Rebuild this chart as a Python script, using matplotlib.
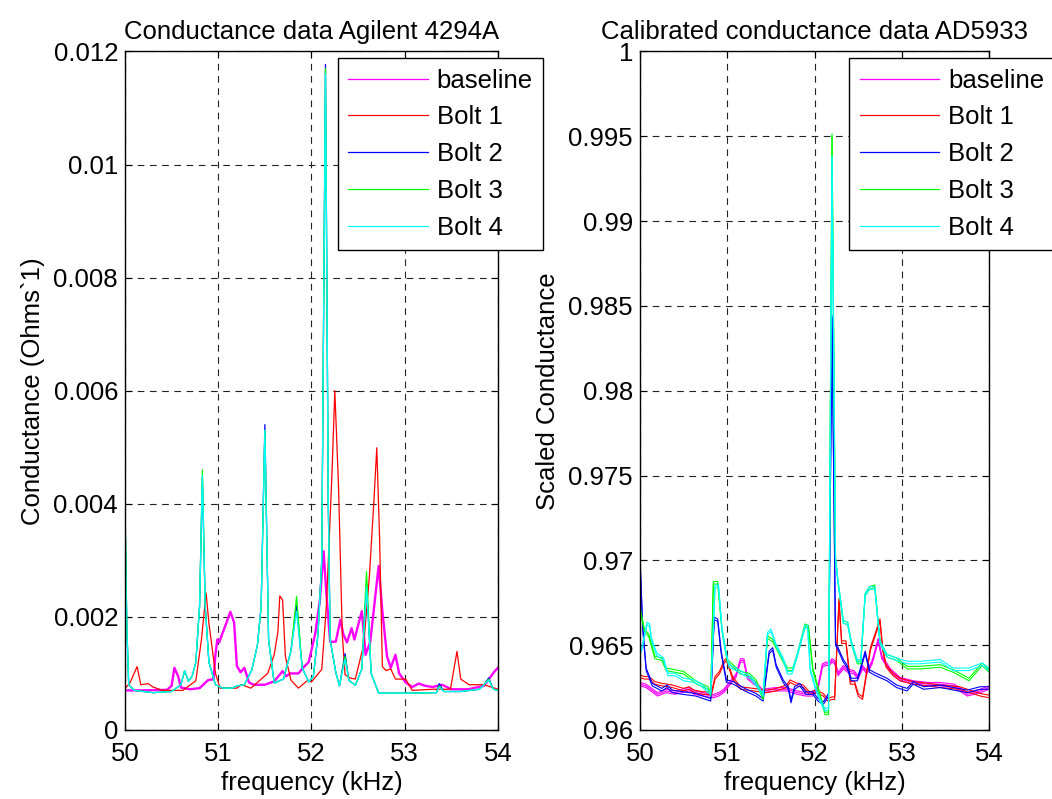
import numpy as np
import matplotlib
matplotlib.use("Agg")
import matplotlib.pyplot as plt
from matplotlib.lines import Line2D

plt.rcParams['font.family'] = ['Liberation Sans', 'DejaVu Sans']

names = ["baseline", "Bolt 1", "Bolt 2", "Bolt 3", "Bolt 4"]
colors = ["#ff00ff", "#ff0000", "#0000ff", "#00ff00", "#00ffff"]

# ---- Agilent 4294A conductance (values in mS -> scaled below) ----
agi_f_base = [50.0, 50.2, 50.45, 50.5, 50.53, 50.57, 50.6, 50.7, 50.8, 50.89, 50.95, 50.97, 50.99,
              51.01, 51.08, 51.13, 51.17, 51.2, 51.24, 51.28, 51.33, 51.38, 51.5, 51.6, 51.69, 51.73,
              51.77, 51.86, 51.91, 51.97, 52.04, 52.09, 52.13, 52.16, 52.2, 52.26, 52.31, 52.34, 52.38,
              52.43, 52.46, 52.5, 52.54, 52.58, 52.63, 52.69, 52.72, 52.76, 52.81, 52.85, 52.9, 52.94,
              53.01, 53.08, 53.15, 53.22, 53.3, 53.4, 53.5, 53.68, 53.85, 53.96, 54.0]
agi_base = [0.70, 0.70, 0.71, 0.78, 1.10, 0.95, 0.75, 0.72, 0.74, 0.88, 0.90, 1.33, 1.60,
            1.55, 1.86, 2.09, 1.90, 1.13, 1.02, 1.10, 0.84, 0.80, 0.80, 0.86, 1.04, 0.95,
            1.00, 1.00, 1.10, 1.20, 1.70, 2.30, 3.16, 2.40, 1.56, 1.56, 1.95, 1.70, 1.55,
            1.80, 1.60, 1.85, 2.10, 1.33, 1.56, 2.45, 2.90, 2.10, 1.30, 1.10, 1.33, 1.00,
            0.84, 0.76, 0.82, 0.78, 0.76, 0.80, 0.72, 0.72, 0.78, 1.03, 1.10]

agi_f_b1 = [50.0, 50.05, 50.13, 50.17, 50.25, 50.3, 50.4, 50.62, 50.76, 50.82, 50.87, 50.9, 50.97,
            51.02, 51.2, 51.25, 51.35, 51.53, 51.6, 51.64, 51.66, 51.69, 51.72, 51.78, 51.86, 51.96,
            52.0, 52.11, 52.16, 52.22, 52.25, 52.29, 52.33, 52.36, 52.41, 52.47, 52.56, 52.62, 52.67,
            52.70, 52.73, 52.76, 52.8, 52.85, 52.9, 53.01, 53.08, 53.3, 53.49, 53.56, 53.6, 53.69,
            53.85, 54.0]
agi_b1 = [0.74, 0.82, 1.12, 0.80, 0.82, 0.76, 0.70, 0.70, 0.87, 1.60, 2.42, 1.89, 1.00,
          0.74, 0.74, 0.80, 0.74, 1.00, 1.33, 1.74, 2.37, 2.30, 1.30, 0.88, 0.74, 0.88,
          0.85, 1.07, 2.20, 4.55, 6.00, 4.30, 1.70, 0.98, 0.92, 0.90, 1.51, 2.70, 4.07,
          4.99, 3.40, 1.12, 1.05, 1.08, 0.90, 0.90, 0.70, 0.72, 0.72, 1.39, 0.90, 0.80,
          0.80, 0.72]

agi_f_bolts = [50.0, 50.02, 50.04, 50.1, 50.3, 50.5, 50.6, 50.64, 50.68, 50.72, 50.76, 50.80, 50.83,
               50.86, 50.9, 50.97, 51.05, 51.15, 51.2, 51.28, 51.36, 51.42, 51.46, 51.50, 51.54, 51.6,
               51.7, 51.78, 51.84, 51.9, 51.97, 52.02, 52.07, 52.11, 52.15, 52.18, 52.2, 52.26, 52.3,
               52.36, 52.4, 52.47, 52.54, 52.59, 52.64, 52.72, 53.0, 53.34, 53.37, 53.42, 53.6, 53.8,
               53.85, 53.9, 53.95, 54.0]
agi_b2 = [3.95, 1.80, 0.80, 0.70, 0.66, 0.68, 0.80, 1.05, 0.86, 0.95, 1.20, 2.20, 4.45,
          2.20, 1.20, 0.80, 0.74, 0.74, 0.78, 0.80, 1.06, 1.50, 2.19, 5.40, 1.59, 0.83,
          0.90, 1.40, 2.20, 1.10, 0.85, 0.95, 1.70, 3.00, 11.77, 4.00, 1.60, 1.02, 0.78,
          1.35, 0.88, 0.79, 1.08, 2.60, 1.00, 0.65, 0.65, 0.66, 0.82, 0.68, 0.68, 0.72,
          0.80, 0.92, 0.72, 0.70]
agi_b3 = [4.00, 1.85, 0.80, 0.70, 0.66, 0.68, 0.80, 1.05, 0.86, 0.95, 1.20, 2.20, 4.60,
          2.20, 1.20, 0.80, 0.74, 0.74, 0.78, 0.80, 1.06, 1.50, 2.15, 5.30, 1.59, 0.83,
          0.90, 1.40, 2.36, 1.10, 0.85, 0.95, 1.70, 3.00, 11.70, 4.00, 1.60, 1.02, 0.78,
          1.30, 0.88, 0.79, 1.08, 2.80, 1.00, 0.65, 0.65, 0.66, 0.78, 0.68, 0.68, 0.72,
          0.80, 0.90, 0.72, 0.70]
agi_b4 = [3.90, 1.80, 0.80, 0.70, 0.66, 0.68, 0.80, 1.05, 0.86, 0.95, 1.20, 2.20, 4.50,
          2.20, 1.20, 0.80, 0.74, 0.74, 0.78, 0.80, 1.06, 1.50, 2.19, 5.30, 1.59, 0.83,
          0.90, 1.40, 2.10, 1.10, 0.85, 0.95, 1.70, 3.00, 11.60, 4.00, 1.60, 1.02, 0.78,
          1.25, 0.88, 0.79, 1.08, 2.53, 1.00, 0.65, 0.65, 0.66, 0.76, 0.68, 0.68, 0.72,
          0.80, 0.88, 0.72, 0.70]

# ---- AD5933 calibrated conductance ----
ad_f_base = [50.0, 50.07, 50.2, 50.3, 50.4, 50.56, 50.62, 50.72, 50.84, 50.9, 50.96, 51.02, 51.1,
             51.15, 51.19, 51.23, 51.33, 51.4, 51.55, 51.68, 51.8, 51.9, 51.98, 52.04, 52.09, 52.13,
             52.17, 52.2, 52.23, 52.27, 52.33, 52.38, 52.45, 52.5, 52.55, 52.6, 52.66, 52.73, 52.77,
             52.87, 52.98, 53.13, 53.3, 53.44, 53.6, 53.75, 53.9, 54.0]
ad_base = [0.9627, 0.9626, 0.9621, 0.9623, 0.9622, 0.9624, 0.9622, 0.9621, 0.9620, 0.9621, 0.9623,
           0.9627, 0.9632, 0.9641, 0.9641, 0.9631, 0.9627, 0.9623, 0.9624, 0.9624, 0.9622, 0.9621,
           0.9621, 0.9625, 0.9638, 0.9639, 0.9639, 0.9641, 0.9640, 0.9633, 0.9637, 0.9635, 0.9634,
           0.9631, 0.9637, 0.9634, 0.9640, 0.9653, 0.9643, 0.9635, 0.9630, 0.9628, 0.9627, 0.9627,
           0.9626, 0.9621, 0.9623, 0.9625]

ad_f_b1 = [50.0, 50.05, 50.1, 50.17, 50.25, 50.37, 50.5, 50.56, 50.62, 50.72, 50.82, 50.86, 50.91,
           50.96, 50.99, 51.06, 51.15, 51.3, 51.45, 51.56, 51.68, 51.72, 51.8, 51.87, 51.94, 52.02,
           52.1, 52.15, 52.2, 52.23, 52.28, 52.31, 52.36, 52.41, 52.46, 52.5, 52.55, 52.64, 52.75,
           52.78, 52.82, 52.9, 52.98, 53.13, 53.3, 53.44, 53.66, 53.9, 54.0]
ad_b1 = [0.9631, 0.9630, 0.9630, 0.9627, 0.9626, 0.9625, 0.9623, 0.9624, 0.9622, 0.9621, 0.9621,
         0.9630, 0.9633, 0.9639, 0.9641, 0.9630, 0.9624, 0.9623, 0.9622, 0.9623, 0.9625, 0.9628,
         0.9626, 0.9625, 0.9621, 0.9622, 0.9620, 0.9617, 0.9618, 0.9618, 0.9676, 0.9651, 0.9651,
         0.9627, 0.9627, 0.9620, 0.9618, 0.9647, 0.9664, 0.9647, 0.9637, 0.9632, 0.9629, 0.9627,
         0.9626, 0.9625, 0.9624, 0.9620, 0.9619]

ad_f_b2 = [50.0, 50.03, 50.07, 50.14, 50.25, 50.31, 50.37, 50.49, 50.64, 50.81, 50.85, 50.89, 50.93,
           50.99, 51.07, 51.2, 51.33, 51.41, 51.48, 51.52, 51.56, 51.64, 51.7, 51.73, 51.77, 51.83,
           51.9, 51.98, 52.04, 52.1, 52.16, 52.2, 52.24, 52.27, 52.33, 52.37, 52.42, 52.49, 52.52,
           52.58, 52.63, 52.7, 52.83, 52.94, 53.06, 53.13, 53.25, 53.44, 53.75, 53.9, 54.0]
ad_b2 = [0.9700, 0.9660, 0.9635, 0.9626, 0.9623, 0.9625, 0.9622, 0.9621, 0.9620, 0.9617, 0.9665,
         0.9664, 0.9645, 0.9628, 0.9627, 0.9623, 0.9620, 0.9617, 0.9645, 0.9647, 0.9637, 0.9628,
         0.9624, 0.9616, 0.9624, 0.9626, 0.9621, 0.9621, 0.9617, 0.9615, 0.9620, 0.9843, 0.9650,
         0.9647, 0.9640, 0.9637, 0.9629, 0.9629, 0.9634, 0.9645, 0.9634, 0.9632, 0.9629, 0.9625,
         0.9623, 0.9627, 0.9624, 0.9625, 0.9622, 0.9624, 0.9624]

ad_f_b3 = [50.0, 50.05, 50.1, 50.17, 50.25, 50.3, 50.4, 50.5, 50.65, 50.78, 50.81, 50.84, 50.89,
           50.94, 51.0, 51.15, 51.25, 51.33, 51.41, 51.46, 51.52, 51.6, 51.69, 51.75, 51.8, 51.89,
           51.93, 51.98, 52.05, 52.12, 52.16, 52.2, 52.24, 52.27, 52.33, 52.38, 52.42, 52.49, 52.53,
           52.58, 52.63, 52.69, 52.75, 52.83, 52.94, 53.06, 53.21, 53.44, 53.59, 53.77, 53.92, 54.0]
ad_b3 = [0.9671, 0.9658, 0.9655, 0.9642, 0.9641, 0.9635, 0.9634, 0.9633, 0.9627, 0.9624, 0.9620,
         0.9686, 0.9686, 0.9658, 0.9640, 0.9633, 0.9632, 0.9628, 0.9618, 0.9654, 0.9652, 0.9644,
         0.9635, 0.9635, 0.9643, 0.9661, 0.9660, 0.9635, 0.9622, 0.9609, 0.9609, 0.9950, 0.9700,
         0.9686, 0.9663, 0.9662, 0.9651, 0.9639, 0.9639, 0.9679, 0.9683, 0.9684, 0.9651, 0.9643,
         0.9641, 0.9636, 0.9636, 0.9637, 0.9634, 0.9629, 0.9638, 0.9634]

ad_f_b4 = [50.0, 50.02, 50.08, 50.11, 50.13, 50.19, 50.27, 50.32, 50.4, 50.5, 50.62, 50.7, 50.78,
           50.81, 50.86, 50.9, 50.94, 50.98, 51.02, 51.1, 51.2, 51.27, 51.33, 51.41, 51.46, 51.5,
           51.56, 51.64, 51.69, 51.74, 51.8, 51.89, 51.92, 51.95, 52.01, 52.07, 52.12, 52.16, 52.2,
           52.24, 52.27, 52.33, 52.38, 52.42, 52.49, 52.53, 52.58, 52.63, 52.69, 52.75, 52.83, 52.94,
           53.06, 53.21, 53.44, 53.59, 53.77, 53.92, 54.0]
ad_b4 = [0.9645, 0.9647, 0.9662, 0.9661, 0.9653, 0.9644, 0.9641, 0.9632, 0.9632, 0.9629, 0.9628,
         0.9626, 0.9622, 0.9621, 0.9684, 0.9684, 0.9658, 0.9646, 0.9637, 0.9635, 0.9632, 0.9630,
         0.9626, 0.9620, 0.9656, 0.9658, 0.9649, 0.9641, 0.9633, 0.9633, 0.9643, 0.9660, 0.9660,
         0.9635, 0.9624, 0.9616, 0.9611, 0.9612, 0.9937, 0.9700, 0.9686, 0.9663, 0.9662, 0.9651,
         0.9640, 0.9640, 0.9679, 0.9683, 0.9683, 0.9651, 0.9643, 0.9641, 0.9639, 0.9639, 0.9640,
         0.9635, 0.9635, 0.9638, 0.9635]

# repeated AD5933 sweeps sit slightly apart from each other
sweep_offsets = [[-0.0001, 0.0, 0.0001], [0.0, 0.00015], [0.0, 0.00015], [0.0, 0.00015], [0.0, 0.00015]]

left_yticks = [0, 0.002, 0.004, 0.006, 0.008, 0.01, 0.012]
right_yticks = [0.96, 0.965, 0.97, 0.975, 0.98, 0.985, 0.99, 0.995, 1.0]
xticks = [50, 51, 52, 53, 54]

FS = 18.5

fig = plt.figure(figsize=(10.52, 7.99), dpi=100)
ax1 = fig.add_axes([0.1188, 0.0864, 0.3546, 0.8492])
ax2 = fig.add_axes([0.6084, 0.0864, 0.3318, 0.8492])

agi = [(agi_f_base, agi_base), (agi_f_b1, agi_b1), (agi_f_bolts, agi_b2),
       (agi_f_bolts, agi_b3), (agi_f_bolts, agi_b4)]
for (f, g), c, n in zip(agi, colors, names):
    lw = 1.7 if n == "baseline" else 0.9
    ax1.plot(f, np.array(g) * 1e-3, color=c, lw=lw)

ad = [(ad_f_base, ad_base), (ad_f_b1, ad_b1), (ad_f_b2, ad_b2), (ad_f_b3, ad_b3), (ad_f_b4, ad_b4)]
for (f, v), c, offs in zip(ad, colors, sweep_offsets):
    for o in offs:
        ax2.plot(f, np.array(v) + o, color=c, lw=0.8)


def style(ax, yticks, ylabels, title, ylabel, leg_x):
    ax.set_xlim(50, 54)
    ax.set_ylim(yticks[0], yticks[-1])
    ax.set_xticks(xticks)
    ax.set_yticks(yticks)
    ax.set_yticklabels(ylabels)
    ax.tick_params(direction='in', top=True, right=True, length=5, width=0.8,
                   labelsize=FS, pad=5)
    ax.tick_params(axis='x', pad=9)
    ax.grid(True, color='#222222', linestyle=(0, (6, 5)), lw=0.8)
    for s in ax.spines.values():
        s.set_linewidth(1.0)
    ax.set_title(title, fontsize=FS, pad=9)
    ax.set_xlabel("frequency (kHz)", fontsize=FS, labelpad=3)
    ax.set_ylabel(ylabel, fontsize=FS, labelpad=6)
    handles = [Line2D([], [], color=c, lw=0.9) for c in colors]
    leg = ax.legend(handles, names, loc='upper left', bbox_to_anchor=(leg_x, 0.99),
                    fontsize=FS, frameon=True, fancybox=False, framealpha=1, edgecolor='black',
                    handlelength=3.1, handletextpad=0.35, labelspacing=0.5, borderpad=0.4,
                    borderaxespad=0)
    leg.get_frame().set_linewidth(1.0)
    leg.set_clip_on(False)


style(ax1, left_yticks, ["0", "0.002", "0.004", "0.006", "0.008", "0.01", "0.012"],
      "Conductance data Agilent 4294A", "Conductance (Ohms`1)", 0.57)
style(ax2, right_yticks, ["0.96", "0.965", "0.97", "0.975", "0.98", "0.985", "0.99", "0.995", "1"],
      "Calibrated conductance data AD5933", "Scaled Conductance", 0.60)

fig.savefig("out.png", dpi=100)
